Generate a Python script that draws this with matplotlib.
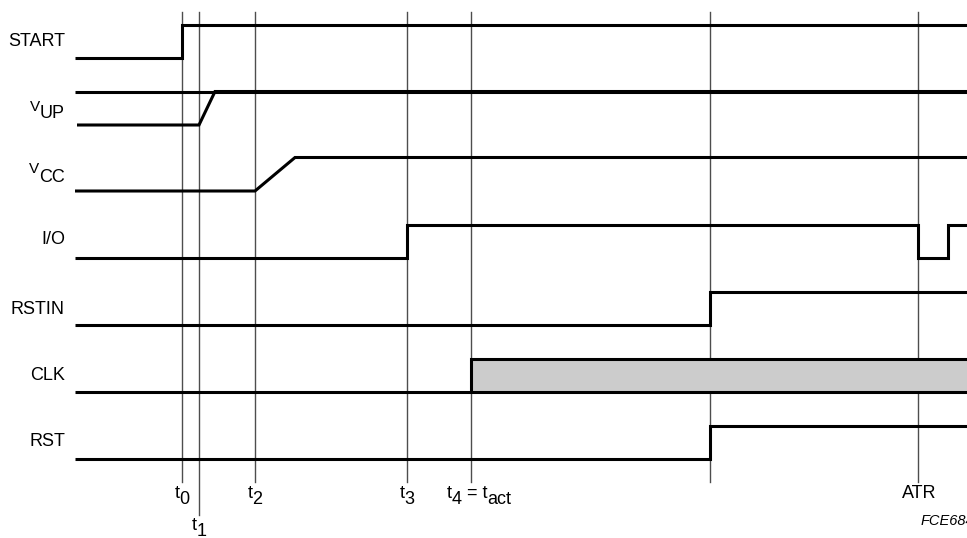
import matplotlib
matplotlib.use("Agg")
import matplotlib.pyplot as plt

plt.rcParams['font.family'] = ['Liberation Sans', 'DejaVu Sans']

# signal rows (low level, pixel y) and swing
signals = ['START', 'VUP', 'VCC', 'I/O', 'RSTIN', 'CLK', 'RST']
row_low = [58, 125, 191, 258, 325, 392, 459]
swing = 33.5

# edges: x positions and levels (0 = low, 1 = high)
start_x = [75, 182, 182, 967]
start_l = [0, 0, 1, 1]
vup_x = [77, 199, 215, 967]
vup_l = [0, 0, 1, 1]
vcc_x = [75, 255, 295, 967]
vcc_l = [0, 0, 1, 1]
io_x = [75, 407, 407, 918, 918, 948, 948, 967]
io_l = [0, 0, 1, 1, 0, 0, 1, 1]
rstin_x = [75, 710, 710, 967]
rstin_l = [0, 0, 1, 1]
clk_x = [75, 967]
clk_l = [0, 0]
clk_active = [471, 967]
rst_x = [75, 710, 710, 967]
rst_l = [0, 0, 1, 1]
vup_top = [75, 967]

# time markers
marker_x = [182, 199, 255, 407, 471, 710, 918]
marker_bottom = [482, 515, 482, 482, 482, 482, 482]
marker_top = 12

fig = plt.figure(figsize=(9.67, 5.38), dpi=100)
ax = fig.add_axes([0, 0, 1, 1])
ax.set_xlim(0, 967)
ax.set_ylim(538, 0)
ax.axis('off')

lw = 2.2
wave = dict(color='black', lw=lw, solid_joinstyle='miter', solid_capstyle='butt', zorder=3)

for mx, mb in zip(marker_x, marker_bottom):
    ax.plot([mx, mx], [marker_top, mb], color='0.3', lw=1.0, zorder=1)

def draw(xs, ls, row):
    base = row_low[row]
    ax.plot(xs, [base - l * swing for l in ls], **wave)

# CLK shaded region
ax.fill_between(clk_active, row_low[5] - swing, row_low[5], color='#cccccc', lw=0, zorder=2)
ax.plot([clk_active[0], clk_active[0], clk_active[1]],
        [row_low[5], row_low[5] - swing, row_low[5] - swing], **wave)

draw(start_x, start_l, 0)
draw(vup_x, vup_l, 1)
ax.plot(vup_top, [row_low[1] - swing] * 2, **wave)
draw(vcc_x, vcc_l, 2)
draw(io_x, io_l, 3)
draw(rstin_x, rstin_l, 4)
draw(clk_x, clk_l, 5)
draw(rst_x, rst_l, 6)

fig.canvas.draw()
renderer = fig.canvas.get_renderer()
fs = 13


def label(x, y, pieces, ha='left'):
    # pieces: (text, dy, size)
    objs = []
    widths = []
    for s, dy, size in pieces:
        t = ax.text(0, 0, s, fontsize=size, ha='left', va='center')
        objs.append(t)
        widths.append(t.get_window_extent(renderer).width)
    total = sum(widths)
    x0 = x - total if ha == 'right' else (x - total / 2 if ha == 'center' else x)
    for t, w, (s, dy, size) in zip(objs, widths, pieces):
        t.set_position((x0, y + dy))
        x0 += w


# signal names
label(65, 110, [('V', -3, 11), ('UP', 4, fs)], 'right')
label(65, 173, [('V', -4, 11), ('CC', 4, fs)], 'right')
label(65, 42, [('START', 0, fs)], 'right')
label(65, 240, [('I/O', 0, fs)], 'right')
label(65, 309, [('RSTIN', 0, fs)], 'right')
label(65, 375, [('CLK', 0, fs)], 'right')
label(65, 442, [('RST', 0, fs)], 'right')

# time labels
label(182, 496, [('t', -2, fs), ('0', 4, fs)], 'center')
label(199, 528, [('t', -2, fs), ('1', 4, fs)], 'center')
label(255, 496, [('t', -2, fs), ('2', 4, fs)], 'center')
label(407, 496, [('t', -2, fs), ('3', 4, fs)], 'center')
label(447, 496, [('t', -2, fs), ('4', 4, fs), (' = t', -2, fs), ('act', 4, fs)], 'left')
label(919, 494, [('ATR', 0, fs)], 'center')
ax.text(921, 521, 'FCE684', fontsize=10.5, style='italic', ha='left', va='center')

fig.savefig('out.png', dpi=100)
